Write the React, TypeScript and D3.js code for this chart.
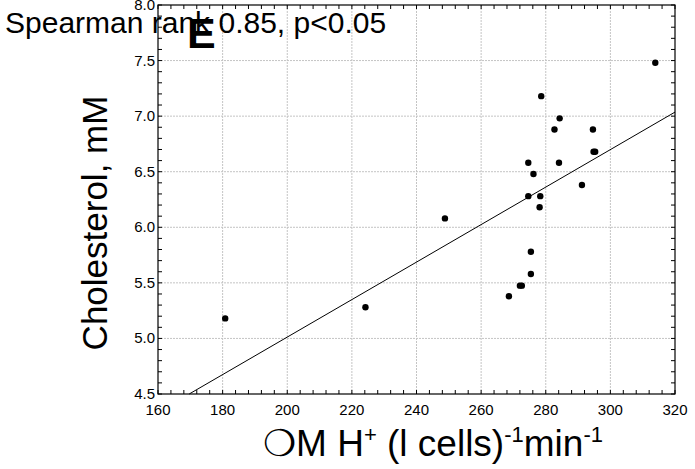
import React from "react";
import * as d3 from "d3";

const xValues = [180.8, 224.2, 248.8, 268.6, 272.0, 272.6, 275.4, 275.4, 278.1, 274.6, 278.3, 291.2, 276.2, 274.6, 284.1, 294.8, 295.3, 282.7, 294.6, 284.3, 278.6, 313.9];
const yValues = [5.18, 5.28, 6.08, 5.38, 5.475, 5.475, 5.58, 5.78, 6.18, 6.28, 6.28, 6.38, 6.48, 6.58, 6.58, 6.68, 6.68, 6.88, 6.88, 6.98, 7.18, 7.48];
const xTicks = [160, 180, 200, 220, 240, 260, 280, 300, 320];
const yTicks = [4.5, 5.0, 5.5, 6.0, 6.5, 7.0, 7.5, 8.0];
const fitSlope = 0.01687;
const fitIntercept = 1.638;
const statText = "Spearman rank 0.85, p<0.05";
const panelLabel = "E";
const yTitle = "Cholesterol, mM";

const W = 695;
const H = 469;
const L = 158, R = 675, T = 5, B = 394;

export default function App() {
  const x = d3.scaleLinear().domain([160, 320]).range([L, R]);
  const y = d3.scaleLinear().domain([4.5, 8.0]).range([B, T]);
  const xMinor = d3.range(160, 320.01, 4);
  const yMinor = d3.range(45, 80.01, 1).map((v) => v / 10);
  const tl = 4;
  const font = "'Liberation Sans', Arial, sans-serif";
  const xStart = (4.5 - fitIntercept) / fitSlope;
  const line = d3.line<[number, number]>().x((d) => x(d[0])).y((d) => y(d[1]));
  const fitPts: [number, number][] = [
    [xStart, fitIntercept + fitSlope * xStart],
    [320, fitIntercept + fitSlope * 320],
  ];
  return (
    <svg width={W} height={H} style={{ position: "absolute", left: 0, top: 0, background: "#fff" }} fontFamily={font}>
      <rect x={0} y={0} width={W} height={H} fill="#fff" />
      {xTicks.slice(1, -1).map((t) => (
        <line key={"gx" + t} x1={x(t)} x2={x(t)} y1={T} y2={B} stroke="#c4c4c4" strokeDasharray="2,1" />
      ))}
      {yTicks.slice(1, -1).map((t) => (
        <line key={"gy" + t} x1={L} x2={R} y1={y(t)} y2={y(t)} stroke="#c4c4c4" strokeDasharray="2,1" />
      ))}
      {xMinor.map((t) => (
        <g key={"mx" + t}>
          <line x1={x(t)} x2={x(t)} y1={B} y2={B - tl} stroke="#000" />
          <line x1={x(t)} x2={x(t)} y1={T} y2={T + tl} stroke="#000" />
        </g>
      ))}
      {yMinor.map((t) => (
        <g key={"my" + t}>
          <line x1={L} x2={L + tl} y1={y(t)} y2={y(t)} stroke="#000" />
          <line x1={R} x2={R - tl} y1={y(t)} y2={y(t)} stroke="#000" />
        </g>
      ))}
      <rect x={L} y={T} width={R - L} height={B - T} fill="none" stroke="#000" strokeWidth={1.2} />
      <path d={line(fitPts) || ""} stroke="#000" fill="none" strokeWidth={1} />
      {xValues.map((v, i) => (
        <circle key={"p" + i} cx={x(v)} cy={y(yValues[i])} r={3.2} fill="#000" />
      ))}
      {xTicks.map((t) => (
        <text key={"xl" + t} x={x(t)} y={B + 21} fontSize={15} textAnchor="middle">{t}</text>
      ))}
      {yTicks.map((t) => (
        <text key={"yl" + t} x={L - 3} y={y(t) + 5} fontSize={15} textAnchor="end">{t.toFixed(1)}</text>
      ))}
      <text x={5} y={33} fontSize={30}>{statText}</text>
      <text x={187} y={48} fontSize={43} fontWeight="bold">{panelLabel}</text>
      <text transform={`translate(107,${223}) rotate(-90)`} fontSize={35} textAnchor="middle">{yTitle}</text>
      <text x={433} y={456} fontSize={37} textAnchor="middle">
        <tspan>❍M H</tspan>
        <tspan fontSize={22} dy={-14}>+</tspan>
        <tspan dy={14}> (l cells)</tspan>
        <tspan fontSize={22} dy={-14}>-1</tspan>
        <tspan dy={14}>min</tspan>
        <tspan fontSize={22} dy={-14}>-1</tspan>
      </text>
    </svg>
  );
}
